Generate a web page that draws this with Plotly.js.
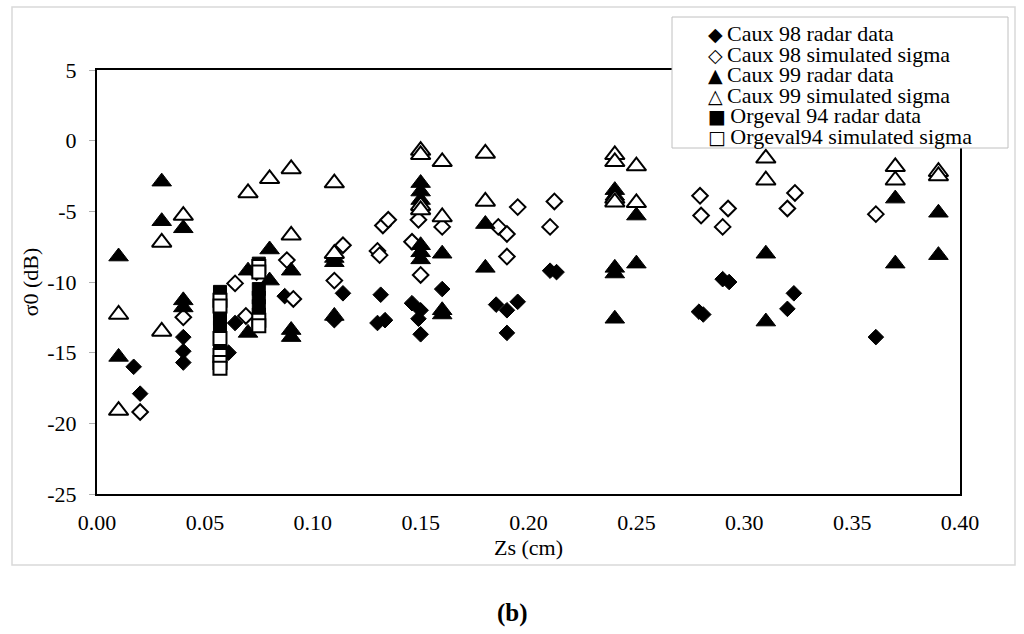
<!DOCTYPE html>
<html>
<head>
<meta charset="utf-8">
<script src="https://cdn.plot.ly/plotly-3.0.1.min.js"></script>
<style>
  body { margin: 0; background: #fff; }
  #chart { width: 1024px; height: 634px; }
</style>
</head>
<body>
<div id="chart"></div>
<script>
// Caux 98
var caux98RadarZs = [0.017, 0.020, 0.040, 0.040, 0.040, 0.061, 0.064, 0.087, 0.110, 0.114, 0.130, 0.1315, 0.1335, 0.146, 0.150, 0.149, 0.150, 0.160, 0.185, 0.190, 0.195, 0.190, 0.210, 0.213, 0.279, 0.281, 0.290, 0.293, 0.320, 0.323, 0.361];
var caux98RadarSigma = [-16.0, -17.9, -13.9, -14.9, -15.7, -15.0, -12.9, -11.0, -12.7, -10.8, -12.9, -10.9, -12.7, -11.5, -12.0, -12.6, -13.7, -10.5, -11.6, -12.0, -11.4, -13.6, -9.2, -9.3, -12.1, -12.3, -9.8, -10.0, -11.9, -10.8, -13.9];
var caux98SimZs = [0.020, 0.040, 0.064, 0.069, 0.074, 0.088, 0.091, 0.110, 0.114, 0.130, 0.131, 0.1325, 0.135, 0.146, 0.149, 0.150, 0.160, 0.186, 0.190, 0.190, 0.195, 0.210, 0.212, 0.2795, 0.280, 0.290, 0.2925, 0.320, 0.3235, 0.361];
var caux98SimSigma = [-19.2, -12.5, -10.1, -12.4, -9.3, -8.45, -11.2, -9.9, -7.4, -7.8, -8.1, -6.0, -5.6, -7.15, -5.6, -9.5, -6.1, -6.1, -6.6, -8.2, -4.7, -6.1, -4.3, -3.9, -5.3, -6.1, -4.8, -4.8, -3.7, -5.2];

// Caux 99
var caux99RadarZs = [0.01, 0.01, 0.03, 0.03, 0.04, 0.04, 0.04, 0.07, 0.07, 0.08, 0.08, 0.09, 0.09, 0.09, 0.11, 0.11, 0.11, 0.15, 0.15, 0.15, 0.15, 0.15, 0.15, 0.16, 0.16, 0.16, 0.18, 0.18, 0.24, 0.24, 0.24, 0.24, 0.24, 0.25, 0.25, 0.31, 0.31, 0.37, 0.37, 0.39, 0.39];
var caux99RadarSigma = [-8.2, -15.3, -2.9, -5.7, -6.2, -11.3, -11.8, -9.2, -13.6, -7.7, -9.9, -9.2, -13.4, -13.9, -8.3, -8.6, -12.4, -3.0, -3.6, -4.2, -7.4, -7.9, -8.4, -8.0, -12.0, -12.3, -5.9, -9.0, -3.5, -3.9, -9.0, -9.4, -12.6, -5.3, -8.7, -8.0, -12.8, -4.1, -8.7, -5.1, -8.1];
var caux99SimZs = [0.01, 0.01, 0.03, 0.03, 0.04, 0.07, 0.08, 0.09, 0.09, 0.11, 0.11, 0.15, 0.15, 0.15, 0.15, 0.16, 0.16, 0.18, 0.18, 0.24, 0.24, 0.24, 0.24, 0.25, 0.25, 0.31, 0.31, 0.37, 0.37, 0.39, 0.39];
var caux99SimSigma = [-12.3, -19.1, -7.2, -13.5, -5.3, -3.7, -2.7, -2.0, -6.7, -3.0, -8.0, -0.7, -1.0, -4.6, -4.9, -1.5, -5.4, -0.9, -4.3, -1.0, -1.5, -4.1, -4.35, -1.8, -4.4, -1.25, -2.8, -1.85, -2.8, -2.2, -2.5];

// Orgeval 94
var orgevalRadarZs = [0.057, 0.057, 0.057, 0.057, 0.057, 0.075, 0.075, 0.075, 0.075, 0.075];
var orgevalRadarSigma = [-10.7, -12.1, -12.6, -13.2, -14.8, -8.7, -10.5, -11.1, -11.7, -12.3];
var orgevalSimZs = [0.057, 0.057, 0.057, 0.057, 0.057, 0.057, 0.075, 0.075, 0.075, 0.075];
var orgevalSimSigma = [-11.3, -11.7, -14.0, -15.2, -15.7, -16.1, -8.9, -9.3, -12.7, -13.1];

var seriesNames = ["Caux 98 radar data", "Caux 98 simulated sigma", "Caux 99 radar data",
  "Caux 99 simulated sigma", "Orgeval 94 radar data", "Orgeval94 simulated sigma"];
var legendGlyphs = ["\u25C6", "\u25C7", "\u25B2", "\u25B3", "\u25A0", "\u25A1"];

var yTickVals = [-25, -20, -15, -10, -5, 0, 5];
var yTickText = ["-25", "-20", "-15", "-10", "-5", "0", "5"];

var serif = "Liberation Serif, Times New Roman, serif";

// plot area in pixels, used to place the hand-made legend box
var plotLeft = 97, plotRight = 960, plotTop = 70, plotBottom = 494;
function px(x) { return (x - plotLeft) / (plotRight - plotLeft); }
function py(y) { return (plotBottom - y) / (plotBottom - plotTop); }

function makeTrace(x, y, name, symbol, filled, size) {
  return {
    x: x,
    y: y,
    name: name,
    type: "scatter",
    mode: "markers",
    cliponaxis: false,
    marker: {
      symbol: symbol,
      size: size,
      color: filled ? "#000000" : "#ffffff",
      line: { color: "#000000", width: filled ? 1 : 2 },
    },
  };
}

var traces = [
  makeTrace(caux98RadarZs, caux98RadarSigma, seriesNames[0], "diamond", true, 12),
  makeTrace(caux98SimZs, caux98SimSigma, seriesNames[1], "diamond", false, 12),
  makeTrace(caux99RadarZs, caux99RadarSigma, seriesNames[2], "triangle-up", true, 17),
  makeTrace(caux99SimZs, caux99SimSigma, seriesNames[3], "triangle-up", false, 17),
  makeTrace(orgevalRadarZs, orgevalRadarSigma, seriesNames[4], "square", true, 13),
  makeTrace(orgevalSimZs, orgevalSimSigma, seriesNames[5], "square", false, 13),
];

// legend rows: glyph and name in one text line
var annotations = [];
var rowY = [34, 54.4, 74.8, 95.2, 115.6, 136];
for (var i = 0; i < seriesNames.length; i++) {
  annotations.push({
    xref: "paper", yref: "paper",
    x: px(706), y: py(rowY[i]),
    xanchor: "left", yanchor: "middle",
    text: '<span style="font-family:DejaVu Sans;font-size:19px">' + legendGlyphs[i] + "</span>\u2009" + seriesNames[i],
    showarrow: false,
    font: { family: serif, size: 22, color: "#000" },
  });
}
annotations.push({
  xref: "paper", yref: "paper",
  x: px(512), y: py(613),
  xanchor: "center", yanchor: "middle",
  text: "<b>(b)</b>",
  showarrow: false,
  font: { family: serif, size: 25, color: "#000" },
});

var layout = {
  width: 1024,
  height: 634,
  margin: { l: 97, r: 64, t: 70, b: 140 },
  paper_bgcolor: "#ffffff",
  plot_bgcolor: "#ffffff",
  showlegend: false,
  font: { family: serif, size: 22, color: "#000" },
  xaxis: {
    range: [0, 0.4],
    dtick: 0.05,
    tick0: 0,
    tickformat: ".2f",
    showgrid: false,
    zeroline: false,
    showline: true,
    mirror: true,
    linecolor: "#000",
    linewidth: 2,
    ticks: "",
    ticklabelstandoff: 8,
    tickfont: { family: serif, size: 22, color: "#000" },
    title: { text: "Zs (cm)", font: { family: serif, size: 22, color: "#000" }, standoff: 0 },
  },
  yaxis: {
    range: [-25, 5],
    tickmode: "array",
    tickvals: yTickVals,
    ticktext: yTickText,
    showgrid: false,
    zeroline: false,
    showline: true,
    mirror: true,
    linecolor: "#000",
    linewidth: 2,
    ticks: "outside",
    ticklen: 6,
    tickcolor: "#b0b0b0",
    ticklabelstandoff: 8,
    tickfont: { family: serif, size: 22, color: "#000" },
    title: { text: "\u03C30 (dB)", font: { family: serif, size: 22, color: "#000" }, standoff: 3 },
  },
  shapes: [
    {
      type: "rect", xref: "paper", yref: "paper", layer: "below",
      x0: px(12), x1: px(1015), y0: py(565), y1: py(7),
      line: { color: "#d9d9d9", width: 1.5 },
    },
    {
      type: "rect", xref: "paper", yref: "paper", layer: "above",
      x0: px(672), x1: px(1008), y0: py(148), y1: py(17),
      fillcolor: "#ffffff",
      line: { color: "#c0c0c0", width: 1 },
    },
  ],
  annotations: annotations,
};

Plotly.newPlot("chart", traces, layout, { staticPlot: true });
</script>
</body>
</html>
